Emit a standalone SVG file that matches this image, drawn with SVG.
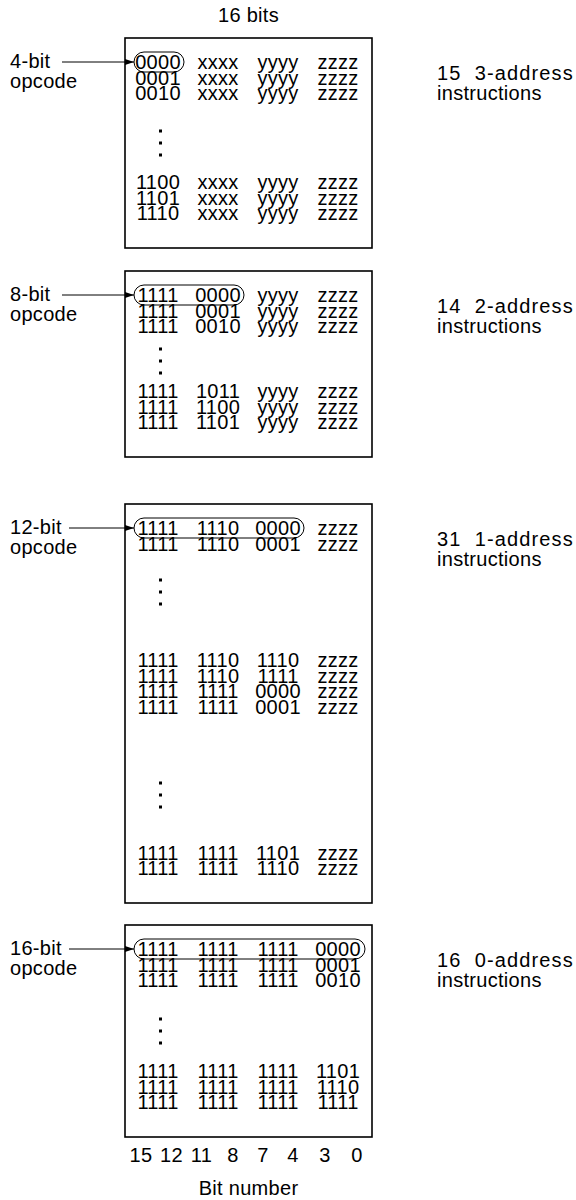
<svg xmlns="http://www.w3.org/2000/svg" width="576" height="1200" viewBox="0 0 576 1200">
<style>
.t{font-family:"Liberation Sans",Arial,Helvetica,sans-serif;font-size:20px;fill:#000;letter-spacing:0.3px}
.m{text-anchor:middle}
.box{fill:none;stroke:#000;stroke-width:1.6}
.oval{fill:none;stroke:#000;stroke-width:1}
.dot{fill:#000}
.arr{stroke:#000;stroke-width:1;fill:none}
</style>
<defs>
<marker id="ah" markerUnits="userSpaceOnUse" markerWidth="10" markerHeight="8" refX="9" refY="4" orient="auto">
<path d="M0,1 L9,4 L0,7 Z" fill="#000"/>
</marker>
</defs>
<rect width="576" height="1200" fill="#fff"/>

<g id="title">
<text class="t m" x="248.5" y="22">16 bits</text>
</g>

<g id="box1">
<rect class="box" x="125" y="38" width="247" height="210"/>
<rect class="oval" x="134" y="52" width="50" height="20" rx="10"/>
<rect class="dot" x="159" y="129.5" width="3" height="3"/>
<rect class="dot" x="159" y="141.5" width="3" height="3"/>
<rect class="dot" x="159" y="153.5" width="3" height="3"/>
<text class="t" x="10" y="68">4-bit</text>
<text class="t" x="10" y="88">opcode</text>
<text class="t" x="437" y="80" xml:space="preserve" textLength="136" lengthAdjust="spacing">15  3-address</text>
<text class="t" x="437" y="100">instructions</text>
<text class="t m" y="69"><tspan x="158">0000</tspan><tspan x="218">xxxx</tspan><tspan x="278">yyyy</tspan><tspan x="338">zzzz</tspan></text>
<text class="t m" y="84.5"><tspan x="158">0001</tspan><tspan x="218">xxxx</tspan><tspan x="278">yyyy</tspan><tspan x="338">zzzz</tspan></text>
<text class="t m" y="100"><tspan x="158">0010</tspan><tspan x="218">xxxx</tspan><tspan x="278">yyyy</tspan><tspan x="338">zzzz</tspan></text>
<text class="t m" y="189"><tspan x="158">1100</tspan><tspan x="218">xxxx</tspan><tspan x="278">yyyy</tspan><tspan x="338">zzzz</tspan></text>
<text class="t m" y="204.5"><tspan x="158">1101</tspan><tspan x="218">xxxx</tspan><tspan x="278">yyyy</tspan><tspan x="338">zzzz</tspan></text>
<text class="t m" y="220"><tspan x="158">1110</tspan><tspan x="218">xxxx</tspan><tspan x="278">yyyy</tspan><tspan x="338">zzzz</tspan></text>
</g>

<g id="box2">
<rect class="box" x="125" y="271" width="247" height="186"/>
<rect class="oval" x="134" y="285" width="110" height="20" rx="10"/>
<rect class="dot" x="159" y="347.5" width="3" height="3"/>
<rect class="dot" x="159" y="359.5" width="3" height="3"/>
<rect class="dot" x="159" y="371.5" width="3" height="3"/>
<text class="t" x="10" y="301">8-bit</text>
<text class="t" x="10" y="321">opcode</text>
<text class="t" x="437" y="313" xml:space="preserve" textLength="136" lengthAdjust="spacing">14  2-address</text>
<text class="t" x="437" y="333">instructions</text>
<text class="t m" y="302"><tspan x="158">1111</tspan><tspan x="218">0000</tspan><tspan x="278">yyyy</tspan><tspan x="338">zzzz</tspan></text>
<text class="t m" y="317.5"><tspan x="158">1111</tspan><tspan x="218">0001</tspan><tspan x="278">yyyy</tspan><tspan x="338">zzzz</tspan></text>
<text class="t m" y="333"><tspan x="158">1111</tspan><tspan x="218">0010</tspan><tspan x="278">yyyy</tspan><tspan x="338">zzzz</tspan></text>
<text class="t m" y="398"><tspan x="158">1111</tspan><tspan x="218">1011</tspan><tspan x="278">yyyy</tspan><tspan x="338">zzzz</tspan></text>
<text class="t m" y="413.5"><tspan x="158">1111</tspan><tspan x="218">1100</tspan><tspan x="278">yyyy</tspan><tspan x="338">zzzz</tspan></text>
<text class="t m" y="429"><tspan x="158">1111</tspan><tspan x="218">1101</tspan><tspan x="278">yyyy</tspan><tspan x="338">zzzz</tspan></text>
</g>

<g id="box3">
<rect class="box" x="125" y="504" width="247" height="399"/>
<rect class="oval" x="134" y="518" width="170" height="20" rx="10"/>
<rect class="dot" x="159" y="578.5" width="3" height="3"/>
<rect class="dot" x="159" y="590.5" width="3" height="3"/>
<rect class="dot" x="159" y="602.5" width="3" height="3"/>
<rect class="dot" x="159" y="781.5" width="3" height="3"/>
<rect class="dot" x="159" y="793.5" width="3" height="3"/>
<rect class="dot" x="159" y="805.5" width="3" height="3"/>
<text class="t" x="10" y="534">12-bit</text>
<text class="t" x="10" y="554">opcode</text>
<text class="t" x="437" y="546" xml:space="preserve" textLength="136" lengthAdjust="spacing">31  1-address</text>
<text class="t" x="437" y="566">instructions</text>
<text class="t m" y="535"><tspan x="158">1111</tspan><tspan x="218">1110</tspan><tspan x="278">0000</tspan><tspan x="338">zzzz</tspan></text>
<text class="t m" y="550.5"><tspan x="158">1111</tspan><tspan x="218">1110</tspan><tspan x="278">0001</tspan><tspan x="338">zzzz</tspan></text>
<text class="t m" y="667"><tspan x="158">1111</tspan><tspan x="218">1110</tspan><tspan x="278">1110</tspan><tspan x="338">zzzz</tspan></text>
<text class="t m" y="682.5"><tspan x="158">1111</tspan><tspan x="218">1110</tspan><tspan x="278">1111</tspan><tspan x="338">zzzz</tspan></text>
<text class="t m" y="698"><tspan x="158">1111</tspan><tspan x="218">1111</tspan><tspan x="278">0000</tspan><tspan x="338">zzzz</tspan></text>
<text class="t m" y="713.5"><tspan x="158">1111</tspan><tspan x="218">1111</tspan><tspan x="278">0001</tspan><tspan x="338">zzzz</tspan></text>
<text class="t m" y="859.5"><tspan x="158">1111</tspan><tspan x="218">1111</tspan><tspan x="278">1101</tspan><tspan x="338">zzzz</tspan></text>
<text class="t m" y="875"><tspan x="158">1111</tspan><tspan x="218">1111</tspan><tspan x="278">1110</tspan><tspan x="338">zzzz</tspan></text>
</g>

<g id="box4">
<rect class="box" x="125" y="925" width="247" height="212"/>
<rect class="oval" x="134" y="939" width="231" height="20" rx="10"/>
<rect class="dot" x="159" y="1017.5" width="3" height="3"/>
<rect class="dot" x="159" y="1029.5" width="3" height="3"/>
<rect class="dot" x="159" y="1041.5" width="3" height="3"/>
<text class="t" x="10" y="955">16-bit</text>
<text class="t" x="10" y="975">opcode</text>
<text class="t" x="437" y="967" xml:space="preserve" textLength="136" lengthAdjust="spacing">16  0-address</text>
<text class="t" x="437" y="987">instructions</text>
<text class="t m" y="956"><tspan x="158">1111</tspan><tspan x="218">1111</tspan><tspan x="278">1111</tspan><tspan x="338">0000</tspan></text>
<text class="t m" y="971.5"><tspan x="158">1111</tspan><tspan x="218">1111</tspan><tspan x="278">1111</tspan><tspan x="338">0001</tspan></text>
<text class="t m" y="987"><tspan x="158">1111</tspan><tspan x="218">1111</tspan><tspan x="278">1111</tspan><tspan x="338">0010</tspan></text>
<text class="t m" y="1078"><tspan x="158">1111</tspan><tspan x="218">1111</tspan><tspan x="278">1111</tspan><tspan x="338">1101</tspan></text>
<text class="t m" y="1093.5"><tspan x="158">1111</tspan><tspan x="218">1111</tspan><tspan x="278">1111</tspan><tspan x="338">1110</tspan></text>
<text class="t m" y="1109"><tspan x="158">1111</tspan><tspan x="218">1111</tspan><tspan x="278">1111</tspan><tspan x="338">1111</tspan></text>
</g>

<g id="bitnumbers">
<text class="t m" y="1162"><tspan x="141">15</tspan><tspan x="171.5">12</tspan><tspan x="201.5">11</tspan><tspan x="233">8</tspan><tspan x="263">7</tspan><tspan x="293">4</tspan><tspan x="325">3</tspan><tspan x="357">0</tspan></text>
<text class="t m" x="248.5" y="1195">Bit number</text>
</g>

<g id="connectors">
<line class="arr" x1="62" y1="62" x2="134" y2="62" marker-end="url(#ah)"/>
<line class="arr" x1="62" y1="295" x2="134" y2="295" marker-end="url(#ah)"/>
<line class="arr" x1="69" y1="528" x2="134" y2="528" marker-end="url(#ah)"/>
<line class="arr" x1="69" y1="949" x2="134" y2="949" marker-end="url(#ah)"/>
</g>
</svg>
